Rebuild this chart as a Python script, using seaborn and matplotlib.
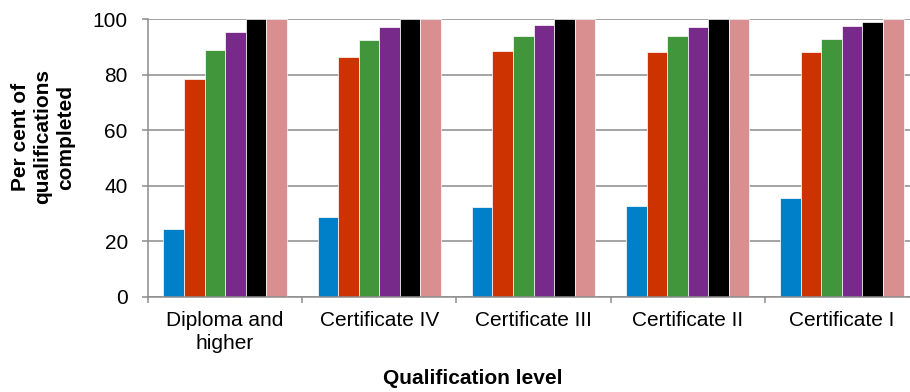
import matplotlib
matplotlib.use("Agg")
import matplotlib.pyplot as plt
from matplotlib.ticker import FixedLocator
import pandas as pd
import seaborn as sns

# Qualification levels on the x axis
levels = ["Diploma and\nhigher", "Certificate IV", "Certificate III",
          "Certificate II", "Certificate I"]

# Per cent of qualifications completed, one list per series
series_1 = [24.4, 28.9, 32.5, 32.6, 35.7]
series_2 = [78.5, 86.4, 88.6, 88.1, 88.0]
series_3 = [88.8, 92.3, 93.8, 94.0, 92.9]
series_4 = [95.2, 97.2, 97.8, 97.2, 97.4]
series_5 = [100.0, 100.0, 100.0, 100.0, 98.8]
series_6 = [100.0, 100.0, 100.0, 100.0, 100.0]

series_names = ["Series 1", "Series 2", "Series 3", "Series 4", "Series 5", "Series 6"]
series_values = [series_1, series_2, series_3, series_4, series_5, series_6]
colors = ["#0080C8", "#CC3300", "#41953B", "#772A8A", "#000000", "#D98F90"]

y_ticks = [0, 20, 40, 60, 80, 100]

rows = []
for name, vals in zip(series_names, series_values):
    for lvl, v in zip(levels, vals):
        rows.append({"level": lvl, "series": name, "pct": v})
df = pd.DataFrame(rows)

sns.set_theme(style="white")
plt.rcParams["font.family"] = ["Liberation Sans", "DejaVu Sans"]
plt.rcParams["text.color"] = "black"

W, H = 910, 392
fig = plt.figure(figsize=(W / 100, H / 100), dpi=100)
ax = fig.add_axes([148 / W, 1 - 297 / H, (919 - 148) / W, (297 - 19) / H])

sns.barplot(data=df, x="level", y="pct", hue="series", hue_order=series_names,
            order=levels, palette=colors, saturation=1, width=0.8,
            edgecolor="white", linewidth=0.5, legend=False, ax=ax,
            errorbar=None)

grey = "#8C8C8C"
ax.set_xlim(-0.5, 4.5)
ax.set_ylim(0, 100)
ax.set_yticks(y_ticks)
ax.set_yticklabels([str(t) for t in y_ticks])
ax.yaxis.grid(True, color=grey, linewidth=1.1)
ax.set_axisbelow(True)

for s in ["top", "right"]:
    ax.spines[s].set_visible(False)
for s in ["left", "bottom"]:
    ax.spines[s].set_color(grey)
    ax.spines[s].set_linewidth(1.1)

ax.xaxis.set_minor_locator(FixedLocator([i - 0.5 for i in range(len(levels) + 1)]))
ax.tick_params(axis="x", which="major", length=0, pad=10, labelsize=15,
               labelcolor="black")
ax.tick_params(axis="x", which="minor", length=4.5, width=1.1, color=grey,
               direction="out", bottom=True)
ax.tick_params(axis="y", which="major", length=4.5, width=1.1, color=grey,
               direction="out", left=True, pad=10, labelsize=15,
               labelcolor="black")
for lbl in ax.get_xticklabels():
    lbl.set_linespacing(1.25)

ax.set_xlabel("")
ax.set_ylabel("")

fig.text(43 / W, 1 - 137 / H, "Per cent of\nqualifications\ncompleted",
         rotation=90, ha="center", va="center", multialignment="center",
         fontsize=15, fontweight="bold", linespacing=1.25, color="black")
fig.text(473 / W, 1 - 379 / H, "Qualification level", ha="center",
         va="center", fontsize=15, fontweight="bold", color="black")

fig.savefig("out.png", dpi=100)
